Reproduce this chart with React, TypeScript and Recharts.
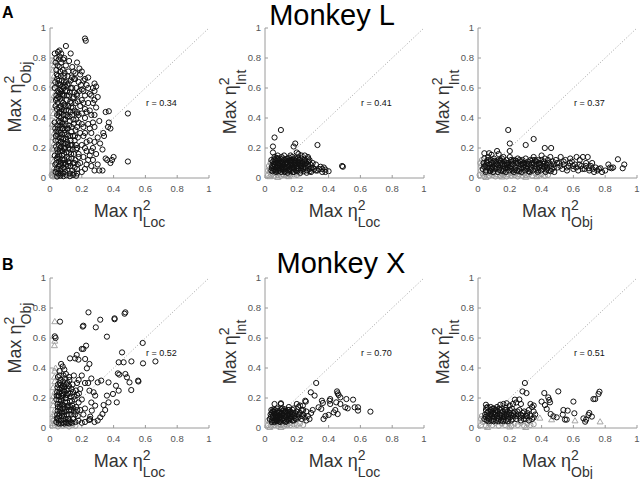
import { ScatterChart, Scatter, XAxis, YAxis, ReferenceLine } from 'recharts';

type Pt = [number, number];

const axisTicks = [0, 0.2, 0.4, 0.6, 0.8, 1];
const titles = ['Monkey L', 'Monkey X'];
const panelLetters = ['A', 'B'];
const rMonkeyL = ['0.34', '0.41', '0.37'];
const rMonkeyX = ['0.52', '0.70', '0.51'];
const xSubs = ['Loc', 'Loc', 'Obj'];
const ySubs = ['Obj', 'Int', 'Int'];

// Monkey L, Loc vs Obj
const lLocObj: Pt[] = [
  [0.22, 0.93], [0.225, 0.915], [0.1, 0.88], [0.05, 0.84], [0.03, 0.83], [0.06, 0.85], [0.07, 0.83], [0.13, 0.83], [0.17, 0.77], [0.185, 0.73],
  [0.2, 0.71], [0.19, 0.69], [0.24, 0.67], [0.28, 0.63], [0.29, 0.61], [0.28, 0.58], [0.3, 0.54], [0.27, 0.6], [0.25, 0.56], [0.23, 0.62],
  [0.35, 0.44], [0.37, 0.445], [0.49, 0.43], [0.37, 0.37], [0.365, 0.34], [0.38, 0.33], [0.335, 0.3], [0.34, 0.28], [0.315, 0.23], [0.33, 0.19],
  [0.35, 0.13], [0.4, 0.14], [0.39, 0.12], [0.38, 0.1], [0.49, 0.11], [0.36, 0.12], [0.33, 0.05], [0.31, 0.05], [0.28, 0.05], [0.3, 0.09],
  [0.29, 0.16], [0.27, 0.2], [0.3, 0.27], [0.28, 0.34], [0.31, 0.38], [0.26, 0.42], [0.29, 0.47], [0.24, 0.5], [0.22, 0.46], [0.26, 0.3],
  [0.25, 0.25], [0.24, 0.12], [0.26, 0.08], [0.22, 0.06], [0.23, 0.18], [0.21, 0.28], [0.2, 0.36], [0.22, 0.4], [0.2, 0.52], [0.21, 0.58],
  [0.18, 0.64], [0.16, 0.7], [0.15, 0.66], [0.14, 0.74], [0.12, 0.78], [0.1, 0.75], [0.09, 0.8], [0.08, 0.72], [0.11, 0.68], [0.13, 0.6],
  [0.17, 0.55], [0.19, 0.48], [0.18, 0.42], [0.17, 0.34], [0.19, 0.3], [0.2, 0.22], [0.18, 0.16], [0.19, 0.1], [0.17, 0.06], [0.2, 0.04], [0.15, 0.03],
  [0.035, 0.04], [0.04, 0.1], [0.03, 0.15], [0.045, 0.19], [0.035, 0.25], [0.04, 0.31], [0.03, 0.37], [0.045, 0.42], [0.035, 0.48], [0.04, 0.55],
  [0.03, 0.6], [0.045, 0.66], [0.04, 0.72], [0.035, 0.77], [0.05, 0.03], [0.055, 0.08], [0.06, 0.13], [0.05, 0.17], [0.055, 0.22], [0.06, 0.27],
  [0.05, 0.33], [0.055, 0.38], [0.06, 0.44], [0.05, 0.5], [0.055, 0.57], [0.06, 0.62], [0.05, 0.68], [0.06, 0.74], [0.055, 0.79], [0.065, 0.05],
  [0.07, 0.1], [0.075, 0.15], [0.065, 0.2], [0.07, 0.24], [0.075, 0.29], [0.065, 0.35], [0.07, 0.4], [0.075, 0.46], [0.065, 0.53], [0.07, 0.58],
  [0.075, 0.65], [0.065, 0.71], [0.07, 0.77], [0.08, 0.03], [0.085, 0.07], [0.09, 0.12], [0.08, 0.18], [0.085, 0.23], [0.09, 0.3], [0.08, 0.36],
  [0.085, 0.42], [0.09, 0.49], [0.08, 0.55], [0.085, 0.6], [0.09, 0.68], [0.095, 0.04], [0.1, 0.09], [0.105, 0.14], [0.095, 0.2], [0.1, 0.26],
  [0.105, 0.33], [0.095, 0.39], [0.1, 0.45], [0.105, 0.52], [0.095, 0.58], [0.1, 0.64], [0.11, 0.05], [0.115, 0.11], [0.12, 0.17], [0.11, 0.22],
  [0.115, 0.28], [0.12, 0.35], [0.11, 0.41], [0.115, 0.48], [0.12, 0.55], [0.11, 0.62], [0.115, 0.71], [0.125, 0.03], [0.13, 0.08], [0.135, 0.13],
  [0.125, 0.19], [0.13, 0.25], [0.135, 0.31], [0.125, 0.38], [0.13, 0.44], [0.135, 0.5], [0.125, 0.57], [0.13, 0.65], [0.14, 0.05], [0.145, 0.1],
  [0.15, 0.16], [0.14, 0.22], [0.145, 0.28], [0.15, 0.36], [0.14, 0.42], [0.145, 0.47], [0.15, 0.54], [0.14, 0.6], [0.155, 0.07], [0.16, 0.12],
  [0.165, 0.19], [0.155, 0.25], [0.16, 0.32], [0.165, 0.39], [0.155, 0.45], [0.16, 0.5], [0.165, 0.6], [0.17, 0.03], [0.175, 0.09], [0.18, 0.14],
  [0.17, 0.2], [0.175, 0.27], [0.18, 0.37], [0.17, 0.44], [0.175, 0.51], [0.042, 0.06], [0.058, 0.11], [0.068, 0.03], [0.078, 0.12], [0.088, 0.16],
  [0.048, 0.14], [0.062, 0.18], [0.072, 0.21], [0.052, 0.25], [0.082, 0.26], [0.092, 0.06], [0.038, 0.21], [0.066, 0.3], [0.046, 0.35], [0.076, 0.33],
  [0.086, 0.39], [0.056, 0.41], [0.098, 0.35], [0.108, 0.24], [0.118, 0.13], [0.128, 0.22], [0.058, 0.47], [0.072, 0.51], [0.044, 0.53], [0.088, 0.55],
  [0.062, 0.56], [0.078, 0.61], [0.052, 0.63], [0.092, 0.7], [0.068, 0.68], [0.048, 0.75], [0.083, 0.79], [0.04, 0.8], [0.06, 0.81], [0.108, 0.58],
  [0.118, 0.63], [0.138, 0.67], [0.148, 0.71], [0.158, 0.66], [0.168, 0.56], [0.185, 0.58], [0.195, 0.62], [0.21, 0.65], [0.2, 0.59], [0.22, 0.55],
  [0.21, 0.5], [0.23, 0.44], [0.2, 0.43], [0.21, 0.34], [0.22, 0.3], [0.24, 0.36], [0.25, 0.33], [0.23, 0.24], [0.22, 0.2], [0.21, 0.14],
  [0.23, 0.09], [0.25, 0.15], [0.27, 0.12], [0.26, 0.18], [0.28, 0.24], [0.27, 0.37], [0.25, 0.45], [0.28, 0.42], [0.27, 0.5], [0.26, 0.55],
  [0.28, 0.52], [0.24, 0.6], [0.22, 0.66],
  [0.033, 0.09], [0.043, 0.13], [0.037, 0.28], [0.047, 0.29], [0.033, 0.33], [0.043, 0.46], [0.037, 0.52], [0.047, 0.58], [0.033, 0.64], [0.043, 0.69],
  [0.053, 0.06], [0.063, 0.09], [0.057, 0.15], [0.067, 0.24], [0.053, 0.31], [0.063, 0.37], [0.057, 0.43], [0.067, 0.48], [0.053, 0.54], [0.063, 0.59],
  [0.057, 0.65], [0.067, 0.62], [0.073, 0.06], [0.083, 0.1], [0.077, 0.18], [0.087, 0.2], [0.073, 0.27], [0.083, 0.33], [0.077, 0.37], [0.087, 0.45],
  [0.073, 0.44], [0.083, 0.5], [0.077, 0.56], [0.087, 0.64], [0.093, 0.1], [0.103, 0.17], [0.097, 0.23], [0.107, 0.29], [0.093, 0.32], [0.103, 0.42],
  [0.097, 0.48], [0.107, 0.55], [0.093, 0.62], [0.113, 0.08], [0.123, 0.1], [0.117, 0.2], [0.127, 0.28], [0.113, 0.33], [0.123, 0.41], [0.117, 0.45],
  [0.127, 0.51], [0.133, 0.16], [0.143, 0.19], [0.137, 0.34], [0.147, 0.39], [0.133, 0.47], [0.143, 0.53], [0.153, 0.1], [0.163, 0.22], [0.157, 0.28],
  [0.167, 0.43], [0.153, 0.57], [0.045, 0.01], [0.065, 0.015], [0.085, 0.012], [0.105, 0.018], [0.125, 0.012], [0.145, 0.02], [0.165, 0.015],
];
const lLocObjGrey: Pt[] = [
  [0.02, 0.01], [0.03, 0.015], [0.04, 0.01], [0.05, 0.02], [0.035, 0.025], [0.015, 0.03], [0.06, 0.015], [0.025, 0.04], [0.045, 0.035], [0.07, 0.02], [0.01, 0.02],
];
const lLocObjTri: Pt[] = [
  [0.02, 0.78], [0.025, 0.75], [0.02, 0.72], [0.025, 0.68], [0.02, 0.65], [0.02, 0.6], [0.025, 0.55], [0.02, 0.52], [0.025, 0.47], [0.02, 0.43],
  [0.025, 0.38], [0.02, 0.34], [0.025, 0.3], [0.02, 0.27], [0.025, 0.23], [0.02, 0.19], [0.025, 0.15], [0.02, 0.11], [0.025, 0.07], [0.02, 0.04],
  [0.015, 0.62], [0.015, 0.36], [0.015, 0.2],
];

// Monkey L, Loc vs Int
const lLocInt: Pt[] = [
  [0.1, 0.32], [0.06, 0.27], [0.05, 0.21], [0.05, 0.17], [0.19, 0.23], [0.18, 0.21], [0.33, 0.22], [0.49, 0.075], [0.485, 0.08], [0.38, 0.056],
  [0.4, 0.045], [0.37, 0.07], [0.36, 0.06], [0.35, 0.075], [0.33, 0.05], [0.32, 0.09], [0.3, 0.1], [0.29, 0.065], [0.28, 0.12], [0.27, 0.14],
  [0.25, 0.15], [0.23, 0.15], [0.21, 0.16], [0.2, 0.17], [0.16, 0.15], [0.12, 0.15], [0.08, 0.15], [0.06, 0.14], [0.04, 0.12],
  [0.04, 0.05], [0.045, 0.08], [0.05, 0.11], [0.055, 0.06], [0.06, 0.09], [0.065, 0.12], [0.07, 0.04], [0.075, 0.07], [0.08, 0.1], [0.085, 0.13],
  [0.09, 0.05], [0.095, 0.08], [0.1, 0.11], [0.105, 0.14], [0.11, 0.06], [0.115, 0.09], [0.12, 0.12], [0.125, 0.04], [0.13, 0.07], [0.135, 0.1],
  [0.14, 0.13], [0.145, 0.05], [0.15, 0.08], [0.155, 0.11], [0.16, 0.06], [0.165, 0.09], [0.17, 0.12], [0.175, 0.04], [0.18, 0.07], [0.185, 0.1],
  [0.19, 0.13], [0.195, 0.05], [0.2, 0.08], [0.205, 0.11], [0.21, 0.06], [0.215, 0.09], [0.22, 0.12], [0.225, 0.05], [0.23, 0.08], [0.235, 0.11],
  [0.24, 0.06], [0.245, 0.09], [0.25, 0.12], [0.255, 0.07], [0.26, 0.1], [0.265, 0.05], [0.27, 0.08], [0.275, 0.11], [0.28, 0.06], [0.285, 0.09],
  [0.29, 0.04], [0.3, 0.07], [0.31, 0.06], [0.32, 0.05], [0.34, 0.06], [0.36, 0.04], [0.38, 0.04],
  [0.052, 0.075], [0.062, 0.055], [0.068, 0.1], [0.078, 0.085], [0.088, 0.065], [0.098, 0.095], [0.108, 0.075], [0.118, 0.055], [0.128, 0.095], [0.138, 0.075],
  [0.148, 0.115], [0.158, 0.085], [0.168, 0.065], [0.178, 0.105], [0.188, 0.085], [0.198, 0.065], [0.208, 0.135], [0.058, 0.125], [0.072, 0.135], [0.092, 0.12],
  [0.112, 0.13], [0.132, 0.125], [0.152, 0.135], [0.172, 0.14], [0.192, 0.115], [0.212, 0.1], [0.232, 0.13], [0.252, 0.095], [0.272, 0.13], [0.082, 0.045],
  [0.102, 0.04], [0.122, 0.045], [0.142, 0.035], [0.162, 0.045], [0.182, 0.04], [0.202, 0.045], [0.222, 0.035], [0.242, 0.045], [0.262, 0.035], [0.282, 0.045],
  [0.043, 0.065], [0.053, 0.095], [0.063, 0.075], [0.073, 0.115], [0.083, 0.06], [0.093, 0.1], [0.103, 0.06], [0.113, 0.11], [0.123, 0.07], [0.133, 0.11],
  [0.143, 0.09], [0.153, 0.06], [0.163, 0.12], [0.173, 0.08], [0.183, 0.06], [0.193, 0.1], [0.203, 0.07], [0.213, 0.12], [0.223, 0.08], [0.233, 0.1],
  [0.243, 0.07], [0.048, 0.045], [0.068, 0.05], [0.088, 0.09], [0.108, 0.1], [0.128, 0.06], [0.148, 0.07], [0.168, 0.1], [0.188, 0.12], [0.208, 0.09],
  [0.228, 0.065], [0.248, 0.11], [0.268, 0.09], [0.078, 0.125], [0.118, 0.085], [0.158, 0.1], [0.198, 0.11],
];
const lLocIntGrey: Pt[] = [
  [0.02, 0.02], [0.03, 0.04], [0.04, 0.02], [0.05, 0.03], [0.06, 0.015], [0.07, 0.03], [0.08, 0.02], [0.09, 0.035], [0.1, 0.015], [0.11, 0.025],
  [0.12, 0.02], [0.13, 0.03], [0.14, 0.015], [0.15, 0.025], [0.16, 0.02], [0.18, 0.025], [0.2, 0.02], [0.22, 0.03], [0.03, 0.06], [0.025, 0.08],
  [0.035, 0.1], [0.02, 0.05],
];
const lLocIntTri: Pt[] = [[0.03, 0.01], [0.08, 0.005], [0.15, 0.01]];

// Monkey L, Obj vs Int
const lObjInt: Pt[] = [
  [0.19, 0.32], [0.2, 0.23], [0.3, 0.22], [0.35, 0.26], [0.42, 0.2], [0.46, 0.2], [0.88, 0.125], [0.92, 0.09], [0.91, 0.065], [0.04, 0.165],
  [0.07, 0.165], [0.12, 0.18], [0.085, 0.155], [0.13, 0.16], [0.2, 0.18], [0.16, 0.14], [0.82, 0.09], [0.83, 0.07], [0.85, 0.07], [0.8, 0.05], [0.84, 0.065],
  [0.03, 0.06], [0.035, 0.1], [0.04, 0.13], [0.045, 0.08], [0.05, 0.05], [0.055, 0.11], [0.06, 0.07], [0.065, 0.14], [0.07, 0.09], [0.075, 0.05],
  [0.08, 0.12], [0.085, 0.07], [0.09, 0.1], [0.095, 0.04], [0.1, 0.13], [0.105, 0.08], [0.11, 0.06], [0.115, 0.11], [0.12, 0.09], [0.125, 0.04],
  [0.13, 0.12], [0.135, 0.07], [0.14, 0.1], [0.145, 0.05], [0.15, 0.13], [0.155, 0.08], [0.16, 0.06], [0.165, 0.11], [0.17, 0.09], [0.175, 0.04],
  [0.18, 0.12], [0.185, 0.07], [0.19, 0.1], [0.195, 0.05], [0.2, 0.14], [0.205, 0.08], [0.21, 0.06], [0.215, 0.11], [0.22, 0.09], [0.225, 0.04],
  [0.23, 0.12], [0.235, 0.07], [0.24, 0.1], [0.245, 0.05], [0.25, 0.13], [0.255, 0.08], [0.26, 0.06], [0.265, 0.11], [0.27, 0.09], [0.275, 0.04],
  [0.28, 0.12], [0.285, 0.07], [0.29, 0.1], [0.295, 0.05], [0.3, 0.13], [0.305, 0.08], [0.31, 0.06], [0.315, 0.11], [0.32, 0.09], [0.325, 0.04],
  [0.33, 0.12], [0.335, 0.07], [0.34, 0.1], [0.345, 0.05], [0.35, 0.14], [0.355, 0.08], [0.36, 0.06], [0.365, 0.11], [0.37, 0.09], [0.375, 0.04],
  [0.38, 0.12], [0.385, 0.07], [0.39, 0.1], [0.395, 0.05], [0.4, 0.15], [0.405, 0.08], [0.41, 0.06], [0.415, 0.11], [0.42, 0.13], [0.425, 0.04],
  [0.43, 0.09], [0.435, 0.07], [0.44, 0.12], [0.445, 0.05], [0.45, 0.1], [0.455, 0.14], [0.46, 0.08], [0.465, 0.06], [0.47, 0.11], [0.475, 0.09],
  [0.48, 0.04], [0.49, 0.12], [0.5, 0.07], [0.51, 0.1], [0.52, 0.14], [0.53, 0.06], [0.54, 0.09], [0.55, 0.12], [0.56, 0.05], [0.57, 0.08],
  [0.58, 0.13], [0.59, 0.11], [0.6, 0.06], [0.61, 0.09], [0.62, 0.14], [0.63, 0.05], [0.64, 0.12], [0.65, 0.08], [0.66, 0.14], [0.67, 0.06],
  [0.68, 0.1], [0.69, 0.14], [0.7, 0.05], [0.71, 0.08], [0.72, 0.06], [0.73, 0.04], [0.74, 0.07], [0.75, 0.05], [0.76, 0.06], [0.78, 0.04], [0.77, 0.065],
  [0.052, 0.09], [0.072, 0.065], [0.092, 0.075], [0.112, 0.095], [0.132, 0.055], [0.152, 0.095], [0.172, 0.065], [0.192, 0.085], [0.212, 0.095], [0.232, 0.055],
  [0.252, 0.1], [0.272, 0.065], [0.292, 0.085], [0.312, 0.095], [0.332, 0.055], [0.352, 0.1], [0.372, 0.065], [0.392, 0.085], [0.412, 0.095], [0.432, 0.055],
  [0.062, 0.12], [0.102, 0.115], [0.142, 0.12], [0.182, 0.09], [0.222, 0.115], [0.262, 0.12], [0.302, 0.095], [0.342, 0.12], [0.382, 0.095], [0.422, 0.08],
  [0.038, 0.075], [0.058, 0.1], [0.078, 0.045], [0.098, 0.11], [0.118, 0.07], [0.138, 0.115], [0.158, 0.045], [0.178, 0.1], [0.198, 0.07], [0.218, 0.05],
  [0.238, 0.115], [0.258, 0.045], [0.278, 0.095], [0.298, 0.07], [0.318, 0.045], [0.338, 0.09], [0.358, 0.12], [0.378, 0.05], [0.398, 0.12], [0.418, 0.07],
  [0.438, 0.1], [0.458, 0.045], [0.478, 0.07], [0.498, 0.1], [0.518, 0.08], [0.538, 0.11], [0.558, 0.07], [0.578, 0.1], [0.598, 0.08], [0.618, 0.07],
  [0.638, 0.09], [0.658, 0.06], [0.678, 0.08], [0.698, 0.065], [0.718, 0.1], [0.048, 0.04], [0.088, 0.06], [0.128, 0.085], [0.168, 0.08], [0.208, 0.12],
];
const lObjIntGrey: Pt[] = [
  [0.01, 0.02], [0.02, 0.05], [0.03, 0.03], [0.04, 0.01], [0.05, 0.025], [0.06, 0.04], [0.07, 0.015], [0.08, 0.03], [0.09, 0.02], [0.1, 0.035],
  [0.11, 0.01], [0.12, 0.025], [0.13, 0.04], [0.14, 0.015], [0.15, 0.03], [0.16, 0.02], [0.17, 0.035], [0.18, 0.01], [0.19, 0.025], [0.2, 0.04],
  [0.21, 0.015], [0.22, 0.03], [0.23, 0.02], [0.24, 0.035], [0.25, 0.01], [0.26, 0.025], [0.27, 0.04], [0.28, 0.015], [0.29, 0.03], [0.3, 0.02],
  [0.32, 0.025], [0.34, 0.015], [0.36, 0.03], [0.38, 0.02], [0.4, 0.025], [0.42, 0.015], [0.44, 0.02], [0.02, 0.08], [0.015, 0.1], [0.025, 0.12],
];
const lObjIntTri: Pt[] = [[0.05, 0.005], [0.15, 0.008], [0.3, 0.006], [0.37, 0.01]];

// Monkey X, Loc vs Obj
const xLocObj: Pt[] = [
  [0.242, 0.771], [0.474, 0.771], [0.469, 0.762], [0.406, 0.731], [0.406, 0.725], [0.316, 0.722], [0.288, 0.671], [0.21, 0.682], [0.206, 0.676], [0.358, 0.609],
  [0.063, 0.709], [0.03, 0.611], [0.035, 0.6], [0.583, 0.567], [0.453, 0.504], [0.227, 0.549], [0.2, 0.527], [0.21, 0.527], [0.168, 0.487], [0.158, 0.464],
  [0.179, 0.456], [0.126, 0.464], [0.221, 0.46], [0.248, 0.427], [0.232, 0.398], [0.07, 0.427], [0.432, 0.438], [0.463, 0.438], [0.512, 0.444], [0.585, 0.431],
  [0.663, 0.444], [0.427, 0.364], [0.436, 0.356], [0.474, 0.36], [0.484, 0.338], [0.5, 0.304], [0.511, 0.253], [0.554, 0.316], [0.556, 0.31], [0.3, 0.304],
  [0.322, 0.316], [0.368, 0.304], [0.415, 0.282], [0.432, 0.249], [0.396, 0.227], [0.42, 0.171], [0.368, 0.171], [0.337, 0.153], [0.358, 0.216], [0.347, 0.12],
  [0.33, 0.093], [0.316, 0.071], [0.284, 0.149], [0.263, 0.116], [0.253, 0.076], [0.246, 0.053], [0.252, 0.06], [0.179, 0.049], [0.274, 0.238], [0.284, 0.216],
  [0.248, 0.249], [0.22, 0.3], [0.26, 0.33], [0.2, 0.35], [0.24, 0.3], [0.26, 0.17], [0.22, 0.13], [0.21, 0.09], [0.2, 0.19], [0.19, 0.26],
  [0.17, 0.3], [0.18, 0.32], [0.3, 0.05], [0.28, 0.04], [0.2, 0.035], [0.22, 0.04], [0.15, 0.35], [0.12, 0.34], [0.1, 0.36], [0.08, 0.41],
  [0.06, 0.38], [0.09, 0.39],
  [0.04, 0.04], [0.045, 0.09], [0.05, 0.14], [0.04, 0.19], [0.045, 0.24], [0.05, 0.29], [0.055, 0.05], [0.06, 0.1], [0.065, 0.16], [0.055, 0.21],
  [0.06, 0.26], [0.065, 0.32], [0.07, 0.03], [0.075, 0.08], [0.08, 0.13], [0.07, 0.18], [0.075, 0.23], [0.08, 0.28], [0.085, 0.06], [0.09, 0.11],
  [0.095, 0.17], [0.085, 0.22], [0.09, 0.27], [0.095, 0.33], [0.1, 0.04], [0.105, 0.09], [0.11, 0.14], [0.1, 0.2], [0.105, 0.25], [0.11, 0.3],
  [0.115, 0.06], [0.12, 0.12], [0.125, 0.18], [0.115, 0.23], [0.12, 0.28], [0.13, 0.04], [0.135, 0.09], [0.14, 0.15], [0.13, 0.21], [0.135, 0.26],
  [0.145, 0.06], [0.15, 0.11], [0.155, 0.19], [0.145, 0.24], [0.16, 0.04], [0.165, 0.14], [0.17, 0.22], [0.175, 0.08], [0.18, 0.17], [0.19, 0.12],
  [0.05, 0.065], [0.065, 0.12], [0.058, 0.185], [0.078, 0.2], [0.088, 0.15], [0.098, 0.06], [0.068, 0.05], [0.048, 0.115], [0.078, 0.105], [0.108, 0.17],
  [0.118, 0.09], [0.128, 0.14], [0.092, 0.24], [0.072, 0.27], [0.052, 0.22], [0.082, 0.31], [0.062, 0.3], [0.102, 0.29], [0.122, 0.32], [0.142, 0.29],
  [0.05, 0.34], [0.11, 0.035], [0.08, 0.035], [0.14, 0.035],
  [0.043, 0.065], [0.048, 0.16], [0.042, 0.215], [0.047, 0.27], [0.057, 0.08], [0.062, 0.14], [0.058, 0.235], [0.067, 0.285], [0.073, 0.1], [0.077, 0.155],
  [0.072, 0.215], [0.083, 0.25], [0.087, 0.08], [0.093, 0.13], [0.097, 0.2], [0.088, 0.29], [0.103, 0.11], [0.107, 0.22], [0.113, 0.15], [0.117, 0.26],
  [0.123, 0.05], [0.127, 0.23], [0.133, 0.12], [0.138, 0.18], [0.147, 0.13], [0.152, 0.21], [0.158, 0.09], [0.163, 0.25], [0.172, 0.12], [0.182, 0.23],
  [0.055, 0.03], [0.09, 0.03], [0.12, 0.03], [0.06, 0.35], [0.085, 0.35],
];
const xLocObjGrey: Pt[] = [
  [0.03, 0.02], [0.05, 0.01], [0.06, 0.025], [0.08, 0.015], [0.1, 0.02], [0.12, 0.01], [0.14, 0.02], [0.16, 0.015], [0.04, 0.03], [0.09, 0.03], [0.02, 0.05], [0.03, 0.08],
];
const xLocObjTri: Pt[] = [
  [0.03, 0.71], [0.03, 0.58], [0.028, 0.55], [0.035, 0.4], [0.03, 0.38], [0.028, 0.34], [0.03, 0.31], [0.02, 0.27], [0.03, 0.24], [0.02, 0.21],
  [0.025, 0.18], [0.02, 0.15], [0.03, 0.12], [0.02, 0.09], [0.025, 0.06], [0.02, 0.03],
];

// Monkey X, Loc vs Int
const xLocInt: Pt[] = [
  [0.322, 0.3], [0.288, 0.238], [0.253, 0.182], [0.257, 0.176], [0.238, 0.149], [0.312, 0.216], [0.358, 0.182], [0.364, 0.167], [0.337, 0.138], [0.354, 0.127],
  [0.41, 0.193], [0.406, 0.182], [0.41, 0.16], [0.453, 0.244], [0.457, 0.231], [0.463, 0.22], [0.474, 0.204], [0.448, 0.171], [0.474, 0.16], [0.512, 0.193],
  [0.554, 0.189], [0.505, 0.138], [0.52, 0.131], [0.564, 0.138], [0.585, 0.138], [0.585, 0.116], [0.663, 0.109], [0.442, 0.12], [0.432, 0.104], [0.457, 0.093],
  [0.4, 0.087], [0.368, 0.06], [0.38, 0.08], [0.3, 0.12], [0.29, 0.1], [0.27, 0.08], [0.28, 0.06], [0.26, 0.11], [0.24, 0.09], [0.23, 0.12],
  [0.22, 0.15], [0.21, 0.14], [0.2, 0.16], [0.18, 0.13], [0.1, 0.165], [0.1, 0.16], [0.06, 0.16], [0.15, 0.14],
  [0.03, 0.06], [0.035, 0.09], [0.04, 0.12], [0.045, 0.05], [0.05, 0.08], [0.055, 0.11], [0.06, 0.04], [0.065, 0.07], [0.07, 0.1], [0.075, 0.13],
  [0.08, 0.05], [0.085, 0.08], [0.09, 0.11], [0.095, 0.04], [0.1, 0.07], [0.105, 0.1], [0.11, 0.13], [0.115, 0.05], [0.12, 0.08], [0.125, 0.11],
  [0.13, 0.04], [0.135, 0.07], [0.14, 0.1], [0.145, 0.12], [0.15, 0.05], [0.155, 0.08], [0.16, 0.11], [0.165, 0.06], [0.17, 0.09], [0.175, 0.12],
  [0.18, 0.05], [0.185, 0.08], [0.19, 0.1], [0.195, 0.06], [0.2, 0.09], [0.21, 0.07], [0.22, 0.1], [0.23, 0.06], [0.24, 0.12], [0.25, 0.07],
  [0.26, 0.05], [0.048, 0.065], [0.058, 0.095], [0.068, 0.055], [0.078, 0.085], [0.088, 0.065], [0.098, 0.09], [0.108, 0.06], [0.118, 0.1], [0.128, 0.09],
  [0.138, 0.055], [0.148, 0.095], [0.158, 0.065], [0.042, 0.1], [0.062, 0.12], [0.082, 0.115], [0.102, 0.125], [0.122, 0.125], [0.072, 0.075], [0.092, 0.045],
  [0.038, 0.075], [0.048, 0.11], [0.058, 0.05], [0.068, 0.085], [0.078, 0.06], [0.088, 0.1], [0.098, 0.055], [0.108, 0.085], [0.118, 0.065], [0.128, 0.11],
  [0.138, 0.085], [0.148, 0.06], [0.158, 0.1], [0.168, 0.075], [0.178, 0.1], [0.188, 0.065], [0.198, 0.11], [0.053, 0.125], [0.073, 0.045], [0.093, 0.075],
  [0.113, 0.115], [0.133, 0.045], [0.153, 0.12], [0.173, 0.05], [0.213, 0.09], [0.233, 0.08], [0.043, 0.04],
];
const xLocIntGrey: Pt[] = [
  [0.02, 0.02], [0.03, 0.04], [0.04, 0.015], [0.05, 0.03], [0.06, 0.02], [0.07, 0.035], [0.08, 0.015], [0.09, 0.025], [0.1, 0.02], [0.11, 0.03],
  [0.12, 0.015], [0.13, 0.025], [0.14, 0.02], [0.15, 0.03], [0.16, 0.02], [0.18, 0.025], [0.2, 0.02], [0.22, 0.03], [0.24, 0.02], [0.02, 0.05],
];
const xLocIntTri: Pt[] = [[0.03, 0.005], [0.1, 0.005]];

// Monkey X, Obj vs Int
const xObjInt: Pt[] = [
  [0.295, 0.3], [0.28, 0.244], [0.305, 0.233], [0.505, 0.244], [0.417, 0.233], [0.442, 0.204], [0.448, 0.187], [0.453, 0.171], [0.4, 0.176], [0.421, 0.153],
  [0.432, 0.127], [0.6, 0.176], [0.764, 0.242], [0.758, 0.227], [0.737, 0.193], [0.726, 0.193], [0.232, 0.189], [0.537, 0.12], [0.564, 0.116], [0.533, 0.089],
  [0.547, 0.056], [0.558, 0.056], [0.495, 0.071], [0.606, 0.098], [0.457, 0.093], [0.474, 0.078], [0.7, 0.1], [0.695, 0.087], [0.663, 0.064], [0.68, 0.056],
  [0.674, 0.042], [0.716, 0.076], [0.33, 0.16], [0.35, 0.15], [0.34, 0.14], [0.32, 0.12], [0.35, 0.11], [0.36, 0.09], [0.34, 0.06], [0.3, 0.08],
  [0.27, 0.16], [0.26, 0.19], [0.24, 0.17], [0.22, 0.16], [0.2, 0.15], [0.18, 0.165], [0.16, 0.16], [0.14, 0.155], [0.12, 0.14], [0.1, 0.13],
  [0.08, 0.14], [0.05, 0.155], [0.06, 0.14],
  [0.04, 0.06], [0.045, 0.09], [0.05, 0.12], [0.055, 0.05], [0.06, 0.08], [0.065, 0.11], [0.07, 0.06], [0.075, 0.09], [0.08, 0.12], [0.085, 0.05],
  [0.09, 0.08], [0.095, 0.1], [0.1, 0.06], [0.105, 0.09], [0.11, 0.12], [0.115, 0.05], [0.12, 0.08], [0.125, 0.11], [0.13, 0.06], [0.135, 0.09],
  [0.14, 0.12], [0.145, 0.05], [0.15, 0.08], [0.155, 0.11], [0.16, 0.06], [0.165, 0.09], [0.17, 0.12], [0.175, 0.05], [0.18, 0.08], [0.185, 0.11],
  [0.19, 0.06], [0.195, 0.09], [0.2, 0.12], [0.21, 0.05], [0.22, 0.08], [0.23, 0.11], [0.24, 0.06], [0.25, 0.09], [0.26, 0.12], [0.27, 0.05],
  [0.28, 0.08], [0.29, 0.11], [0.3, 0.06], [0.31, 0.1], [0.32, 0.05], [0.33, 0.08], [0.35, 0.07], [0.062, 0.065], [0.082, 0.095], [0.102, 0.075],
  [0.122, 0.065], [0.142, 0.085], [0.162, 0.07], [0.182, 0.095], [0.202, 0.07], [0.222, 0.1], [0.242, 0.08], [0.262, 0.07], [0.282, 0.1],
  [0.048, 0.075], [0.058, 0.1], [0.068, 0.045], [0.078, 0.07], [0.088, 0.11], [0.098, 0.045], [0.108, 0.1], [0.118, 0.12], [0.128, 0.045], [0.138, 0.07],
  [0.148, 0.1], [0.158, 0.045], [0.168, 0.075], [0.178, 0.12], [0.188, 0.045], [0.198, 0.1], [0.208, 0.085], [0.218, 0.06], [0.228, 0.09], [0.248, 0.11],
  [0.268, 0.09], [0.288, 0.06], [0.308, 0.08], [0.053, 0.135], [0.093, 0.13], [0.133, 0.13], [0.173, 0.135], [0.213, 0.13],
];
const xObjIntGrey: Pt[] = [
  [0.02, 0.02], [0.03, 0.04], [0.05, 0.015], [0.07, 0.03], [0.09, 0.02], [0.11, 0.035], [0.13, 0.015], [0.15, 0.03], [0.17, 0.02], [0.19, 0.035],
  [0.21, 0.015], [0.23, 0.03], [0.25, 0.02], [0.27, 0.035], [0.29, 0.015], [0.31, 0.03], [0.33, 0.02], [0.35, 0.025], [0.02, 0.06], [0.025, 0.08],
];
const xObjIntTri: Pt[] = [[0.389, 0.067], [0.463, 0.056], [0.61, 0.049], [0.768, 0.042], [0.06, 0.005], [0.2, 0.008], [0.3, 0.005]];

const FONT = '"Liberation Sans", Arial, Helvetica, sans-serif';
const colX = [50, 265, 478];
const rowTop = [28, 278];
const PW = 159;
const PH = 150;

const toXY = (arr: Pt[]) => arr.map(([x, y]) => ({ x, y }));

const blackDot = (p: any) => <circle cx={p.cx} cy={p.cy} r={2.6} fill="none" stroke="#111" strokeWidth={1} />;
const greyDot = (p: any) => <circle cx={p.cx} cy={p.cy} r={2.6} fill="none" stroke="#9c9c9c" strokeWidth={1} />;
const greyTri = (p: any) => (
  <path d={`M${p.cx},${p.cy - 3} L${p.cx + 3},${p.cy + 2.2} L${p.cx - 3},${p.cy + 2.2} Z`} fill="none" stroke="#9c9c9c" strokeWidth={0.9} />
);

interface PanelProps {
  left: number;
  top: number;
  black: Pt[];
  grey: Pt[];
  tri: Pt[];
}

function Panel({ left, top, black, grey, tri }: PanelProps) {
  const tickStyle = { fill: '#555', fontSize: 9.5, fontFamily: FONT };
  return (
    <div style={{ position: 'absolute', left: left - 30, top: top - 6 }}>
      <ScatterChart width={PW + 38} height={PH + 30} margin={{ top: 6, right: 8, bottom: 0, left: 0 }}>
        <XAxis
          type="number"
          dataKey="x"
          domain={[0, 1]}
          ticks={axisTicks}
          height={24}
          tickSize={-3}
          tickMargin={10}
          tick={tickStyle}
          stroke="#9a9a9a"
        />
        <YAxis
          type="number"
          dataKey="y"
          domain={[0, 1]}
          ticks={axisTicks}
          width={30}
          tickSize={-3}
          tickMargin={7}
          tick={tickStyle}
          stroke="#9a9a9a"
        />
        <ReferenceLine segment={[{ x: 0, y: 0 }, { x: 1, y: 1 }]} stroke="#8a8a8a" strokeDasharray="1 2" strokeWidth={0.8} />
        <Scatter data={toXY(grey)} shape={greyDot} isAnimationActive={false} />
        <Scatter data={toXY(tri)} shape={greyTri} isAnimationActive={false} />
        <Scatter data={toXY(black)} shape={blackDot} isAnimationActive={false} />
      </ScatterChart>
    </div>
  );
}

function EtaLabel({ x, y, sub, vertical }: { x: number; y: number; sub: string; vertical?: boolean }) {
  return (
    <text
      transform={vertical ? `translate(${x},${y}) rotate(-90)` : `translate(${x},${y})`}
      textAnchor="middle"
      fontFamily={FONT}
      fill="#333"
    >
      <tspan fontSize={18}>Max η</tspan>
      <tspan fontSize={14} dy={-7}>2</tspan>
      <tspan fontSize={14} dx={-7.8} dy={17}>{sub}</tspan>
    </text>
  );
}

const panels = [
  [lLocObj, lLocObjGrey, lLocObjTri],
  [lLocInt, lLocIntGrey, lLocIntTri],
  [lObjInt, lObjIntGrey, lObjIntTri],
  [xLocObj, xLocObjGrey, xLocObjTri],
  [xLocInt, xLocIntGrey, xLocIntTri],
  [xObjInt, xObjIntGrey, xObjIntTri],
];
const yLabelCenters = [[97, 102, 102], [338, 352, 352]];
const titleX = [332, 341];
const titleBase = [25, 273];
const letterBase = [18, 270];

export default function App() {
  return (
    <div style={{ position: 'absolute', left: 0, top: 0, width: 640, height: 479, background: '#fff', overflow: 'hidden' }}>
      {panels.map((p, i) => {
        const row = Math.floor(i / 3);
        const col = i % 3;
        return <Panel key={i} left={colX[col]} top={rowTop[row]} black={p[0]} grey={p[1]} tri={p[2]} />;
      })}
      <svg width={640} height={479} style={{ position: 'absolute', left: 0, top: 0, pointerEvents: 'none' }}>
        {[0, 1].map((row) => (
          <g key={row}>
            <text x={2} y={letterBase[row]} fontFamily={FONT} fontWeight="bold" fontSize={16} fill="#000">
              {panelLetters[row]}
            </text>
            <text x={titleX[row]} y={titleBase[row]} textAnchor="middle" fontFamily={FONT} fontSize={29} fill="#000">
              {titles[row]}
            </text>
            {[0, 1, 2].map((col) => (
              <g key={col}>
                <EtaLabel x={colX[col] + PW / 2} y={rowTop[row] + PH + 39} sub={xSubs[col]} />
                <EtaLabel x={colX[col] - 29} y={yLabelCenters[row][col]} sub={ySubs[col]} vertical />
                <text x={colX[col] + 96} y={rowTop[row] + 78} fontFamily={FONT} fontSize={9} fill="#111">
                  {`r = ${(row === 0 ? rMonkeyL : rMonkeyX)[col]}`}
                </text>
              </g>
            ))}
          </g>
        ))}
      </svg>
    </div>
  );
}
